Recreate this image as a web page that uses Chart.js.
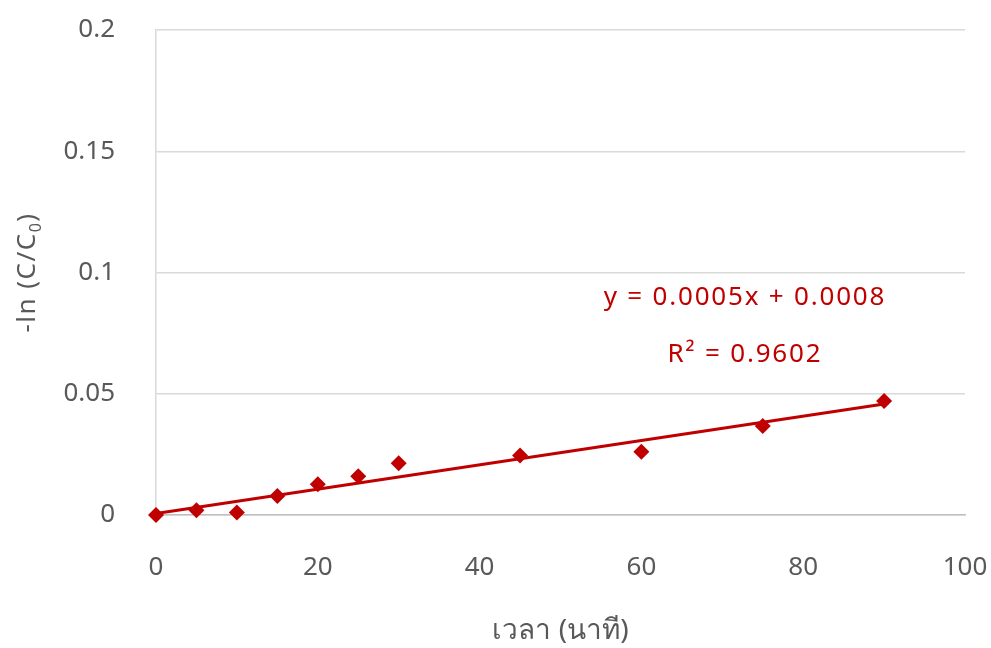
<!DOCTYPE html>
<html>
<head>
<meta charset="utf-8">
<script src="https://cdn.jsdelivr.net/npm/chart.js@4.4.0/dist/chart.umd.min.js"></script>
<style>
  html, body { margin: 0; padding: 0; background: #fff; }
  #wrap { width: 991px; height: 648px; position: relative; }
</style>
</head>
<body>
<div id="wrap"><canvas id="c"></canvas></div>
<script>
// time in minutes
const times = [0, 5, 10, 15, 20, 25, 30, 45, 60, 75, 90];
// -ln(C/C0)
const lnValues = [0, 0.002, 0.001, 0.0078, 0.0127, 0.016, 0.0213, 0.0245, 0.0261, 0.0367, 0.047];
const yTicks = [0, 0.05, 0.1, 0.15, 0.2];
const eqText = 'y = 0.0005x + 0.0008';
const r2Text = 'R² = 0.9602';

const red = '#C00000';
const grey = '#595959';
const fontFamily = '"Noto Sans", "DejaVu Sans", sans-serif';

// least squares line through the points (trendline)
function fitLine(xs, ys) {
    const n = xs.length;
    const mx = xs.reduce((a, b) => a + b, 0) / n;
    const my = ys.reduce((a, b) => a + b, 0) / n;
    let sxy = 0, sxx = 0;
    for (let i = 0; i < n; i++) {
        sxy += (xs[i] - mx) * (ys[i] - my);
        sxx += (xs[i] - mx) ** 2;
    }
    const slope = sxy / sxx;
    return { slope, intercept: my - slope * mx };
}
const fit = fitLine(times, lnValues);
const trendPoints = [times[0], times[times.length - 1]].map(x => ({ x, y: fit.slope * x + fit.intercept }));

// keep the plot area fixed: drop the label overhang padding chart.js adds
function noOverhang(s) {
    s.paddingLeft = s.paddingRight = s.paddingTop = s.paddingBottom = 0;
}

// draws equation labels and the y title with a subscript
const labelsPlugin = {
    id: 'labels',
    afterDraw(chart) {
        const ctx = chart.ctx;
        const xs = chart.scales.x, ys = chart.scales.y;
        ctx.save();
        ctx.fillStyle = red;
        ctx.font = '26px ' + fontFamily;
        ctx.letterSpacing = '1.8px';
        ctx.textAlign = 'center';
        ctx.textBaseline = 'middle';
        ctx.fillText(eqText, xs.getPixelForValue(72.8), ys.getPixelForValue(0.0895));
        ctx.fillText(r2Text, xs.getPixelForValue(72.8), ys.getPixelForValue(0.066));

        // y axis title
        ctx.fillStyle = grey;
        ctx.letterSpacing = '1.5px';
        ctx.translate(28, (chart.chartArea.top + chart.chartArea.bottom) / 2);
        ctx.rotate(-Math.PI / 2);
        ctx.textBaseline = 'middle';
        ctx.textAlign = 'left';
        const main = '-ln (C/C';
        const sub = '0';
        const close = ')';
        ctx.font = '26px ' + fontFamily;
        const wMain = ctx.measureText(main).width;
        const wClose = ctx.measureText(close).width;
        ctx.font = '16px ' + fontFamily;
        const wSub = ctx.measureText(sub).width;
        const total = wMain + wSub + wClose;
        let x0 = -total / 2;
        ctx.font = '26px ' + fontFamily;
        ctx.fillText(main, x0, 0);
        ctx.font = '16px ' + fontFamily;
        ctx.fillText(sub, x0 + wMain, 8);
        ctx.font = '26px ' + fontFamily;
        ctx.fillText(close, x0 + wMain + wSub, 0);
        ctx.restore();
    }
};

new Chart(document.getElementById('c'), {
    type: 'scatter',
    data: {
        datasets: [
            {
                label: 'data',
                data: times.map((t, i) => ({ x: t, y: lnValues[i] })),
                pointStyle: 'rectRot',
                pointRadius: 8,
                backgroundColor: red,
                borderColor: red,
                borderWidth: 0,
                clip: false,
                order: 1
            },
            {
                label: 'trend',
                data: trendPoints,
                showLine: true,
                pointRadius: 0,
                borderColor: red,
                borderWidth: 3,
                clip: false,
                order: 2
            }
        ]
    },
    options: {
        responsive: true,
        maintainAspectRatio: false,
        animation: false,
        layout: { padding: { top: 30, right: 26, bottom: 0, left: 0 } },
        plugins: {
            legend: { display: false },
            tooltip: { enabled: false }
        },
        scales: {
            x: {
                min: 0,
                max: 100,
                ticks: {
                    stepSize: 20,
                    color: grey,
                    padding: 37,
                    maxRotation: 0,
                    font: { size: 26, family: fontFamily }
                },
                grid: { display: false, drawTicks: false },
                border: { display: true, color: '#BFBFBF', width: 1.5 },
                title: {
                    display: true,
                    text: 'เวลา (นาที)',
                    color: grey,
                    padding: { top: 26, bottom: 0 },
                    font: { size: 28, family: fontFamily }
                },
                afterFit(s) { s.height = 133; noOverhang(s); }
            },
            y: {
                min: 0,
                max: 0.2,
                afterBuildTicks(s) { s.ticks = yTicks.map(v => ({ value: v })); },
                ticks: {
                    color: grey,
                    padding: 41,
                    font: { size: 26, family: fontFamily },
                    callback: v => String(+v.toFixed(2))
                },
                grid: { color: '#D9D9D9', lineWidth: 1.5, drawTicks: false },
                border: { display: true, color: '#D9D9D9', width: 1.5 },
                afterFit(s) { s.width = 156; noOverhang(s); }
            }
        }
    },
    plugins: [labelsPlugin]
});
</script>
</body>
</html>
